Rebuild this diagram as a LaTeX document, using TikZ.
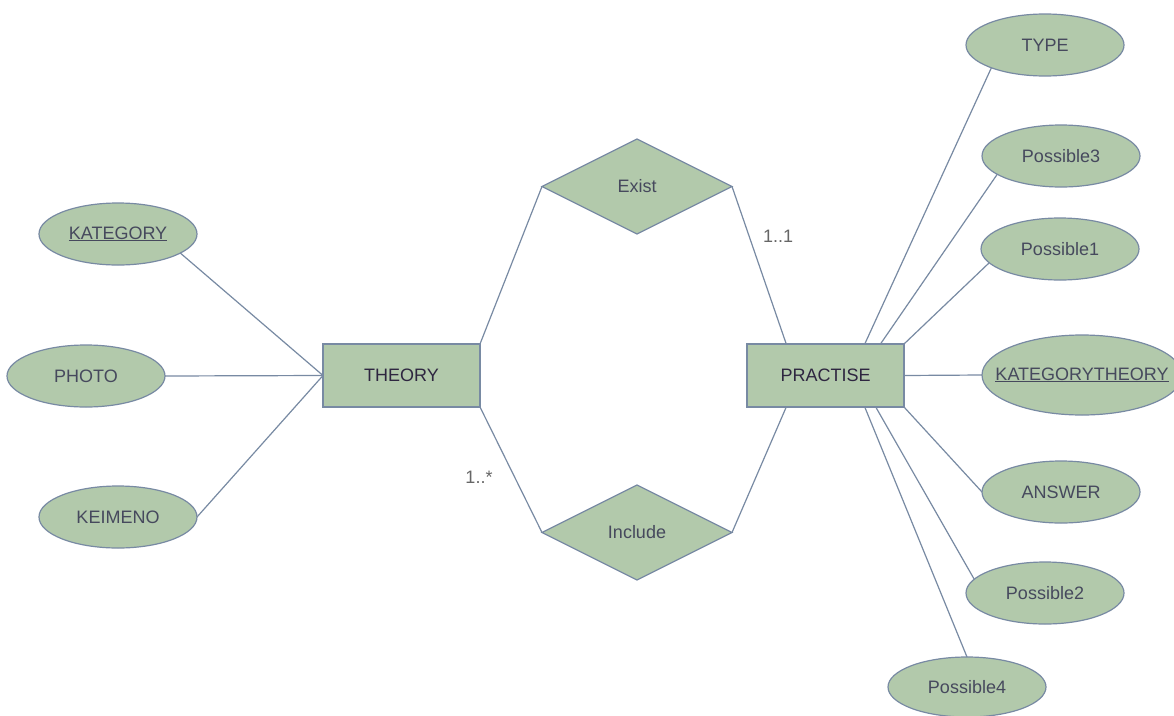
\documentclass[tikz,border=0pt]{standalone}
\usepackage{fontspec}
\setmainfont{Liberation Sans}
\usetikzlibrary{shapes.geometric,calc}

\definecolor{sage}{HTML}{B2C9AB}
\definecolor{slate}{HTML}{788AA3}
\definecolor{inkattr}{HTML}{46495D}
\definecolor{inkent}{HTML}{2E2640}
\definecolor{inklbl}{HTML}{666666}

% underlined key attribute
\newcommand\keyattr[1]{\setbox0\hbox{#1}\rlap{\rule[-2.4pt]{\wd0}{1.1pt}}\box0}

\begin{document}
\begin{tikzpicture}[x=1pt,y=-1pt,
  base/.style={draw=slate, fill=sage, line width=1.2pt, inner sep=0pt, outer sep=0pt,
               font=\fontsize{18}{22}\selectfont},
  attr/.style={base, ellipse, text=inkattr, minimum width=158pt, minimum height=62pt},
  entity/.style={base, rectangle, text=inkent, minimum width=157pt, minimum height=63pt},
  rel/.style={base, diamond, aspect=2, text=inkattr, minimum width=190pt, minimum height=95pt},
  link/.style={draw=slate, line width=1.2pt},
  card/.style={text=inklbl, font=\fontsize{18}{22}\selectfont}
]
\fill[white] (0,0) rectangle (1174,715);
\useasboundingbox (0,0) rectangle (1174,715);

% entities
\node[entity] (theory) at (401.5,375.5) {THEORY};
\node[entity] (practise) at (825.5,375.5) {PRACTISE};

% relationships
\node[rel] (exist) at (637,186.5) {Exist};
\node[rel] (include) at (637,532.5) {Include};

% attributes of THEORY
\node[attr] (kategory) at (118,234) {\keyattr{KATEGORY}};
\node[attr] (photo) at (86,376) {PHOTO};
\node[attr] (keimeno) at (118,517) {KEIMENO};

% attributes of PRACTISE
\node[attr] (type) at (1045,45) {TYPE};
\node[attr] (possthree) at (1061,156) {Possible3};
\node[attr] (possone) at (1060,249) {Possible1};
\node[attr, minimum width=200pt, minimum height=80pt] (kattheory) at (1082,375)
  {\makebox[0pt]{\keyattr{KATEGORYTHEORY}}};
\node[attr] (answer) at (1061,492) {ANSWER};
\node[attr] (posstwo) at (1045,593) {Possible2};
\node[attr, minimum height=60pt] (possfour) at (967,687) {Possible4};

% connectors
\draw[link] (kategory.343) -- (theory.west);
\draw[link] (photo.east) -- (theory.west);
\draw[link] (keimeno.east) -- (theory.west);
\draw[link] (theory.north east) -- (exist.west);
\draw[link] (theory.south east) -- (include.west);
\draw[link] (exist.east) -- ($(practise.north west)!0.25!(practise.north east)$);
\draw[link] (include.east) -- ($(practise.south west)!0.25!(practise.south east)$);
\draw[link] ($(practise.north west)!0.75!(practise.north east)$) -- (type.203);
\draw[link] ($(practise.north west)!0.85!(practise.north east)$) -- (possthree.196);
\draw[link] (practise.north east) -- (possone.191);
\draw[link] (practise.east) -- (kattheory.west);
\draw[link] (practise.south east) -- (answer.west);
\draw[link] ($(practise.south west)!0.82!(practise.south east)$) -- (posstwo.169);
\draw[link] ($(practise.south west)!0.75!(practise.south east)$) -- (possfour.north);

% cardinalities
\node[card] (cardone) at (778,236) {1..1};
\node[card] (cardmany) at (479,477) {1..*};
\end{tikzpicture}
\end{document}
